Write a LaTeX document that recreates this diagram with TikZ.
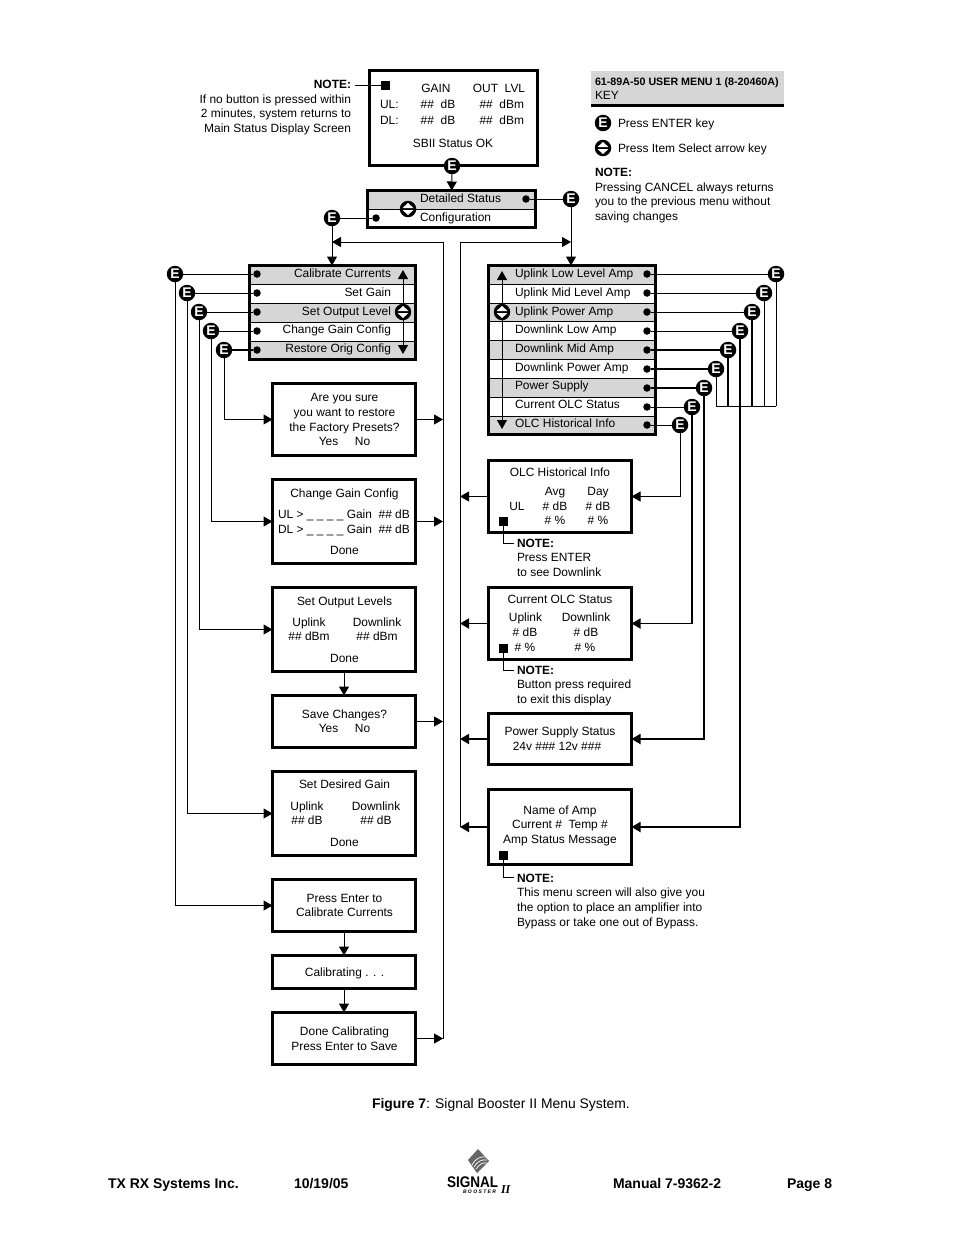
\documentclass[tikz,border=0pt]{standalone}
\usepackage{fontspec}
\setmainfont{Liberation Sans}
\newfontfamily\logosans[FakeStretch=0.88]{Liberation Sans}
\newfontfamily\logoserif{Liberation Serif}
\usetikzlibrary{arrows.meta,calc}
\newcounter{txtno}
\newcommand{\fs}{\fontsize{11.95}{14.5}\selectfont}
\tikzset{
  frame/.style={draw=black,line width=3pt,inner sep=0pt,outer sep=0pt,align=center,font=\fs},
  rowgray/.style={draw=black,line width=.9pt,fill=black!16,inner sep=0pt,outer sep=0pt},
  rowwhite/.style={draw=black,line width=.9pt,fill=white,inner sep=0pt,outer sep=0pt},
  dot/.style={circle,fill=black,inner sep=0pt,minimum size=7.5pt,outer sep=0pt},
  ekey/.style={circle,fill=black,inner sep=0pt,minimum size=16.5pt,outer sep=0pt,text=white,font=\fontsize{14}{14}\selectfont\bfseries},
  akey/.style={circle,fill=black,inner sep=0pt,minimum size=16.5pt,outer sep=0pt,path picture={
    \fill[white] ($(path picture bounding box.center)+(-5.5,-1)$) -- ($(path picture bounding box.center)+(5.5,-1)$) -- ($(path picture bounding box.center)+(0,-6)$) -- cycle;
    \fill[white] ($(path picture bounding box.center)+(-5.5,1)$) -- ($(path picture bounding box.center)+(5.5,1)$) -- ($(path picture bounding box.center)+(0,6)$) -- cycle;}},
  mark square/.style={fill=black,inner sep=0pt,minimum size=9pt,outer sep=0pt},
  wire/.style={draw=black,line width=1pt},
  hwire/.style={draw=black,line width=1.8pt},
  thin wire/.style={draw=black,line width=.9pt},
  tip/.style={-{Triangle[length=9pt,width=10pt]}},
  dtip/.style={{Triangle[length=9pt,width=10pt]}-{Triangle[length=9pt,width=10pt]}},
  lab/.style={inner sep=0pt,outer sep=0pt,font=\fs},
}
\newcommand{\BX}[6][frame]{\node[#1,minimum width={(#5-#3)*1pt},minimum height={(#6-#4)*1pt}] (#2) at ({(#3+#5)/2},{(#4+#6)/2}) {};}
\newcommand{\TC}[3]{\stepcounter{txtno}\node[lab,anchor=base] (t\thetxtno) at (#1,#2) {#3};}
\newcommand{\TL}[3]{\stepcounter{txtno}\node[lab,anchor=base west] (t\thetxtno) at (#1,#2) {#3};}
\newcommand{\TR}[3]{\stepcounter{txtno}\node[lab,anchor=base east] (t\thetxtno) at (#1,#2) {#3};}
\begin{document}
\begin{tikzpicture}[x=1pt,y=-1pt]
\useasboundingbox (0,0) rectangle (954,1235);
% key panel
\BX[rowgray,draw=none]{keypanel}{591}{71}{784}{105}
\coordinate (kl) at (591,105.5); \coordinate (kr) at (784,105.5);
\draw[hwire,line width=2.5pt] (kl) -- (kr);
\stepcounter{txtno}\node[lab,anchor=base west,font=\fontsize{10.7}{12}\selectfont\bfseries] (keyt) at (595,85) {61-89A-50 USER MENU 1 (8-20460A)};
\TL{595}{99}{KEY}
\node[ekey] (ekeyk) at (603,123) {E};
\TL{618}{127}{Press ENTER key}
\node[akey] (akeyk) at (603,148) {};
\TL{618}{152}{Press Item Select arrow key}
\TL{595}{176}{\bfseries NOTE:}
\TL{595}{191}{Pressing CANCEL always returns}
\TL{595}{205}{you to the previous menu without}
\TL{595}{220}{saving changes}
% top status box
\BX{top}{369.5}{70.5}{537.5}{165.5}
\node[mark square] (sqtop) at (385,85) {};
\TR{351}{88}{\bfseries NOTE:}
\coordinate (nt) at (355,85);
\draw[thin wire] (nt) -- (sqtop);
\TR{351}{103}{If no button is pressed within}
\TR{351}{117}{2 minutes, system returns to}
\TR{351}{132}{Main Status Display Screen}
\TC{436}{92}{GAIN}
\TC{499}{92}{OUT\ \ LVL}
\TL{380}{108}{UL:}\TC{438}{108}{\#\#\ \ dB}\TR{524}{108}{\#\#\ \ dBm}
\TL{380}{124}{DL:}\TC{438}{124}{\#\#\ \ dB}\TR{524}{124}{\#\#\ \ dBm}
\TC{453}{147}{SBII Status OK}
\node[ekey] (etop) at (452,166) {E};
% detailed status
\BX[rowgray]{dsa}{367.5}{190.5}{535.5}{209}
\BX[rowwhite]{dsb}{367.5}{209}{535.5}{227.5}
\BX[frame,fill=none]{ds}{367.5}{190.5}{535.5}{227.5}
\draw[wire,tip] (etop) -- (ds);
\TL{420}{202}{Detailed Status}
\TL{420}{221}{Configuration}
\node[dot] (dsd1) at (526,199) {};
\node[dot] (dsd2) at (376,218) {};
\node[akey] (dsk) at (408,209) {};
\node[ekey] (eds1) at (571,199) {E};
\node[ekey] (eds2) at (332,218) {E};
\draw[wire] (dsd1) -- (eds1);
\draw[wire] (dsd2) -- (eds2);
% left menu
\BX[rowgray]{la}{249.5}{265.5}{415.5}{284}
\BX[rowwhite]{lb}{249.5}{284}{415.5}{303}
\BX[rowgray]{lc}{249.5}{303}{415.5}{322}
\BX[rowwhite]{ld}{249.5}{322}{415.5}{341}
\BX[rowgray]{le}{249.5}{341}{415.5}{359.5}
\BX[frame,fill=none]{lm}{249.5}{265.5}{415.5}{359.5}
\TR{391}{277}{Calibrate Currents}
\TR{391}{296}{Set Gain}
\TR{391}{315}{Set Output Level}
\TR{391}{333}{Change Gain Config}
\TR{391}{352}{Restore Orig Config}
\coordinate (lup) at (403,270); \coordinate (ldn) at (403,354);
\draw[wire,dtip] (lup) -- (ldn);
\node[akey] (lk) at (403,312) {};
\draw[wire,tip] (eds2) -- (lm.north -| eds2);
\node[dot] (ld1) at (257,274) {};\node[dot] (ld2) at (257,293) {};\node[dot] (ld3) at (257,312) {};\node[dot] (ld4) at (257,331) {};\node[dot] (ld5) at (257,350) {};
\node[ekey] (el1) at (175,274) {E};\node[ekey] (el2) at (187,293) {E};\node[ekey] (el3) at (199,312) {E};\node[ekey] (el4) at (211,331) {E};\node[ekey] (el5) at (224,350) {E};
\draw[wire] (ld1) -- (el1);\draw[wire] (ld2) -- (el2);\draw[wire] (ld3) -- (el3);\draw[wire] (ld4) -- (el4);\draw[hwire] (ld5) -- (el5);
% left column boxes
\BX{bres}{272.5}{383.5}{415.5}{455.5}
\TC{344.5}{401}{Are you sure}\TC{344.5}{416}{you want to restore}\TC{344.5}{431}{the Factory Presets?}\TC{344.5}{445}{Yes\ \ \ \ \ No}
\BX{bgain}{272.5}{479.5}{415.5}{563.5}
\TC{344.5}{497}{Change Gain Config}
\TL{278}{518}{UL > \_ \_ \_ \_ Gain\ \ \#\# dB}
\TL{278}{533}{DL > \_ \_ \_ \_ Gain\ \ \#\# dB}
\TC{344.5}{554}{Done}
\BX{bout}{272.5}{587.5}{415.5}{671.5}
\TC{344.5}{605}{Set Output Levels}
\TC{309}{626}{Uplink}\TC{377}{626}{Downlink}
\TC{309}{640}{\#\# dBm}\TC{377}{640}{\#\# dBm}
\TC{344.5}{662}{Done}
\BX{bsave}{272.5}{695.5}{415.5}{747.5}
\TC{344.5}{718}{Save Changes?}\TC{344.5}{732}{Yes\ \ \ \ \ No}
\BX{bdes}{272.5}{771.5}{415.5}{855.5}
\TC{344.5}{788}{Set Desired Gain}
\TC{307}{810}{Uplink}\TC{376}{810}{Downlink}
\TC{307}{824}{\#\# dB}\TC{376}{824}{\#\# dB}
\TC{344.5}{846}{Done}
\BX{bcal}{272.5}{879.5}{415.5}{931.5}
\TC{344.5}{902}{Press Enter to}\TC{344.5}{916}{Calibrate Currents}
\BX{bing}{272.5}{955.5}{415.5}{988.5}
\TC{344.5}{976}{Calibrating . . .}
\BX{bdone}{272.5}{1012.5}{415.5}{1064.5}
\TC{344.5}{1035}{Done Calibrating}\TC{344.5}{1050}{Press Enter to Save}
\draw[wire,tip] (bout) -- (bsave);
\draw[wire,tip] (bcal) -- (bing);
\draw[wire,tip] (bing) -- (bdone);
\draw[wire,tip] (el1) |- (bcal.west);
\draw[wire,tip] (el2) |- (bdes.west);
\draw[wire,tip] (el3) |- (bout.west);
\draw[wire,tip] (el4) |- (bgain.west);
\draw[wire,tip] (el5) |- (bres.west);
% return bus to config
\coordinate (busL) at (443,242);
\draw[wire,tip] (bres.east) -- (bres.east -| busL);
\draw[wire,tip] (bgain.east) -- (bgain.east -| busL);
\draw[wire,tip] (bsave.east) -- (bsave.east -| busL);
\draw[wire,tip] (bdone.east) -- (bdone.east -| busL);
\draw[thin wire,tip] (bdone.east -| busL) -- (busL) -- (eds2 |- busL);
% right menu
\BX[rowgray]{ra}{488.5}{265.5}{655.5}{284}
\BX[rowwhite]{rb}{488.5}{284}{655.5}{303}
\BX[rowgray]{rc}{488.5}{303}{655.5}{321}
\BX[rowwhite]{rd}{488.5}{321}{655.5}{340}
\BX[rowgray]{re}{488.5}{340}{655.5}{359}
\BX[rowwhite]{rf}{488.5}{359}{655.5}{378}
\BX[rowgray]{rg}{488.5}{378}{655.5}{397}
\BX[rowwhite]{rh}{488.5}{397}{655.5}{416}
\BX[rowgray]{ri}{488.5}{416}{655.5}{434.5}
\BX[frame,fill=none]{rm}{488.5}{265.5}{655.5}{434.5}
\TL{515}{277}{Uplink Low Level Amp}
\TL{515}{296}{Uplink Mid Level Amp}
\TL{515}{315}{Uplink Power Amp}
\TL{515}{333}{Downlink Low Amp}
\TL{515}{352}{Downlink Mid Amp}
\TL{515}{371}{Downlink Power Amp}
\TL{515}{389}{Power Supply}
\TL{515}{408}{Current OLC Status}
\TL{515}{427}{OLC Historical Info}
\coordinate (rup) at (502,271); \coordinate (rdn) at (502,429);
\draw[thin wire,dtip] (rup) -- (rdn);
\node[akey] (rk) at (502,312) {};
\draw[wire,tip] (eds1) -- (rm.north -| eds1);
\node[dot] (rd1) at (647,274) {};\node[dot] (rd2) at (647,293) {};\node[dot] (rd3) at (647,312) {};\node[dot] (rd4) at (647,331) {};\node[dot] (rd5) at (647,350) {};\node[dot] (rd6) at (647,369) {};\node[dot] (rd7) at (647,388) {};\node[dot] (rd8) at (647,407) {};\node[dot] (rd9) at (647,425) {};
\node[ekey] (er1) at (776,274) {E};\node[ekey] (er2) at (764,293) {E};\node[ekey] (er3) at (752,312) {E};\node[ekey] (er4) at (740,331) {E};\node[ekey] (er5) at (728,350) {E};\node[ekey] (er6) at (716,369) {E};\node[ekey] (er7) at (704,388) {E};\node[ekey] (er8) at (692,407) {E};\node[ekey] (er9) at (680,425) {E};
\draw[wire] (rd1) -- (er1);\draw[wire] (rd2) -- (er2);\draw[wire] (rd3) -- (er3);\draw[wire] (rd4) -- (er4);\draw[hwire] (rd5) -- (er5);\draw[hwire] (rd6) -- (er6);\draw[hwire] (rd7) -- (er7);\draw[wire] (rd8) -- (er8);\draw[wire] (rd9) -- (er9);
% right column boxes
\BX{rolc}{488.5}{460.5}{631.5}{532.5}
\TC{560}{476}{OLC Historical Info}
\TC{555}{495}{Avg}\TC{598}{495}{Day}
\TC{517}{510}{UL}\TC{555}{510}{\# dB}\TC{598}{510}{\# dB}
\TC{555}{524}{\# \%}\TC{598}{524}{\# \%}
\node[mark square] (sq1) at (503,521) {};
\coordinate (n1) at (514,543);
\draw[thin wire] (sq1) |- (n1);
\TL{517}{547}{\bfseries NOTE:}\TL{517}{561}{Press ENTER}\TL{517}{576}{to see Downlink}
\BX{rcur}{488.5}{587.5}{631.5}{659.5}
\TC{560}{603}{Current OLC Status}
\TC{525.5}{621}{Uplink}\TC{586}{621}{Downlink}
\TC{525}{636}{\# dB}\TC{586}{636}{\# dB}
\TC{525}{651}{\# \%}\TC{585}{651}{\# \%}
\node[mark square] (sq2) at (503,648) {};
\coordinate (n2) at (514,670);
\draw[thin wire] (sq2) |- (n2);
\TL{517}{674}{\bfseries NOTE:}\TL{517}{688}{Button press required}\TL{517}{703}{to exit this display}
\BX{rpow}{488.5}{713.5}{631.5}{764.5}
\TC{560}{735}{Power Supply Status}\TC{557}{750}{24v \#\#\# 12v \#\#\#}
\BX{rname}{488.5}{789.5}{631.5}{864.5}
\TC{560}{814}{Name of Amp}\TC{560}{828}{Current \#\ \ Temp \#}\TC{560}{843}{Amp Status Message}
\node[mark square] (sq3) at (503,855) {};
\coordinate (n3) at (514,877);
\draw[thin wire] (sq3) |- (n3);
\TL{517}{882}{\bfseries NOTE:}\TL{517}{896}{This menu screen will also give you}\TL{517}{911}{the option to place an amplifier into}\TL{517}{926}{Bypass or take one out of Bypass.}
\draw[thin wire,tip] (er9) |- (rolc.east);
\draw[hwire,tip] (er8) |- (rcur.east);
\draw[hwire,tip] (er7) |- (rpow.east);
\draw[hwire,tip] (er4) |- (rname.east);
\coordinate (mrg) at (0,406);
\draw[wire] (er1) -- (er1 |- mrg);
\draw[wire] (er2) -- (er2 |- mrg);
\draw[hwire] (er3) -- (er3 |- mrg);
\draw[hwire] (er5) -- (er5 |- mrg);
\draw[wire] (er6) -- (er6 |- mrg);
\draw[wire] (er6 |- mrg) -- (er1 |- mrg);
% return bus to detailed
\coordinate (busR) at (460,242);
\draw[wire,tip] (rolc.west) -- (rolc.west -| busR);
\draw[hwire,tip] (rcur.west) -- (rcur.west -| busR);
\draw[hwire,tip] (rpow.west) -- (rpow.west -| busR);
\draw[hwire,tip] (rname.west) -- (rname.west -| busR);
\draw[thin wire,tip] (rname.west -| busR) -- (busR) -- (eds1 |- busR);
% caption
\TC{501}{1108}{\fontsize{13.9}{15}\selectfont\textbf{Figure 7}: Signal Booster II Menu System.}
% footer
\TL{108}{1188}{\fontsize{14}{16}\selectfont\bfseries TX RX Systems Inc.}
\TL{294}{1188}{\fontsize{14}{16}\selectfont\bfseries 10/19/05}
\TL{613}{1188}{\fontsize{14}{16}\selectfont\bfseries Manual 7-9362-2}
\TL{787}{1188}{\fontsize{14}{16}\selectfont\bfseries Page 8}
% logo
\fill[black!60] (478,1149) -- (489,1161) -- (477,1173) -- (468,1160) -- cycle;
\draw[white,line width=.7pt] (472,1165) .. controls (475,1159) and (480,1156) .. (486,1157);
\draw[white,line width=.7pt] (474,1167) .. controls (477,1162) and (481,1159) .. (487,1160);
\draw[white,line width=.7pt] (476,1169) .. controls (479,1165) and (482,1162) .. (487,1163);
\TL{447}{1187}{\fontsize{15.4}{18}\logosans\bfseries SIGNAL}
\TL{463}{1193.5}{\fontsize{5}{6}\selectfont\bfseries\itshape B O O S T E R}
\TL{501}{1193}{\fontsize{12}{14}\logoserif\bfseries\itshape II}
\end{tikzpicture}
\end{document}
